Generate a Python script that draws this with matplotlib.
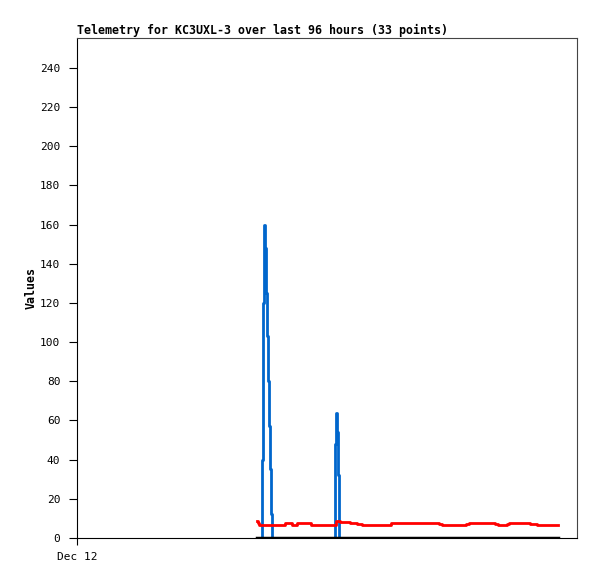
import matplotlib
matplotlib.use("Agg")
import matplotlib.pyplot as plt

# hours since Dec 12 00:00
blue_t = [34.56, 35.52, 35.65, 35.85, 36.04, 36.23, 36.42, 36.61, 36.81, 37.00,
          37.19, 37.38, 37.54, 49.44, 49.48, 49.67, 49.86, 50.05, 50.25, 50.40, 92.35]
blue_v = [0, 0, 40, 120, 160, 148, 125, 103, 80, 57,
          35, 12, 0, 0, 16, 48, 64, 54, 32, 0, 0]

red_t = [34.56, 34.75, 34.94, 39.55, 39.94, 40.51, 41.28, 42.05, 42.24, 44.74,
         44.93, 49.15, 49.73, 50.50, 52.42, 53.76, 54.72, 60.10, 60.29, 69.12,
         69.50, 70.08, 74.11, 74.69, 75.26, 79.68, 80.26, 80.83, 82.18, 82.56,
         82.94, 86.40, 86.98, 88.32, 92.35]
red_v = [8.7, 7.8, 6.8, 6.8, 7.8, 7.8, 6.8, 6.8, 7.8, 7.8,
         6.8, 6.8, 8.7, 8.3, 7.8, 7.3, 6.8, 6.8, 7.8, 7.8,
         7.3, 6.8, 6.8, 7.3, 7.8, 7.8, 7.3, 6.8, 6.8, 7.3,
         7.8, 7.8, 7.3, 6.8, 6.8]

black_t = [34.56, 92.35]
black_v = [0, 0]

yticks = list(range(0, 241, 20))
xtick_labels = ["Dec 12"]

plt.rcParams['font.family'] = ['DejaVu Sans Mono']

fig = plt.figure(figsize=(5.97, 5.79), dpi=100)
ax = fig.add_axes([77 / 597, 41 / 579, 500 / 597, 500 / 579])

ax.plot(blue_t, blue_v, color='#0066cc', lw=2, drawstyle='steps-mid')
ax.plot(red_t, red_v, color='#ff0000', lw=2, drawstyle='steps-post')
ax.plot(black_t, black_v, color='black', lw=2.5)

ax.set_xlim(0, 96)
ax.set_ylim(0, 255.3)
ax.set_yticks(yticks)
ax.set_xticks([0])
ax.set_xticklabels(xtick_labels)
ax.tick_params(axis='y', direction='out', length=6, pad=6, labelsize=8)
ax.tick_params(axis='x', direction='out', length=5, pad=5, labelsize=8)

for s in ['top', 'right']:
    ax.spines[s].set_color('#444444')
ax.spines['left'].set_color('black')
ax.spines['bottom'].set_color('black')

ax.set_title("Telemetry for KC3UXL-3 over last 96 hours (33 points)",
             loc='left', fontsize=8.35, fontweight='bold', pad=3)
ax.set_ylabel("Values", fontsize=8.35, fontweight='bold', labelpad=2)

fig.savefig("out.png", dpi=100)
